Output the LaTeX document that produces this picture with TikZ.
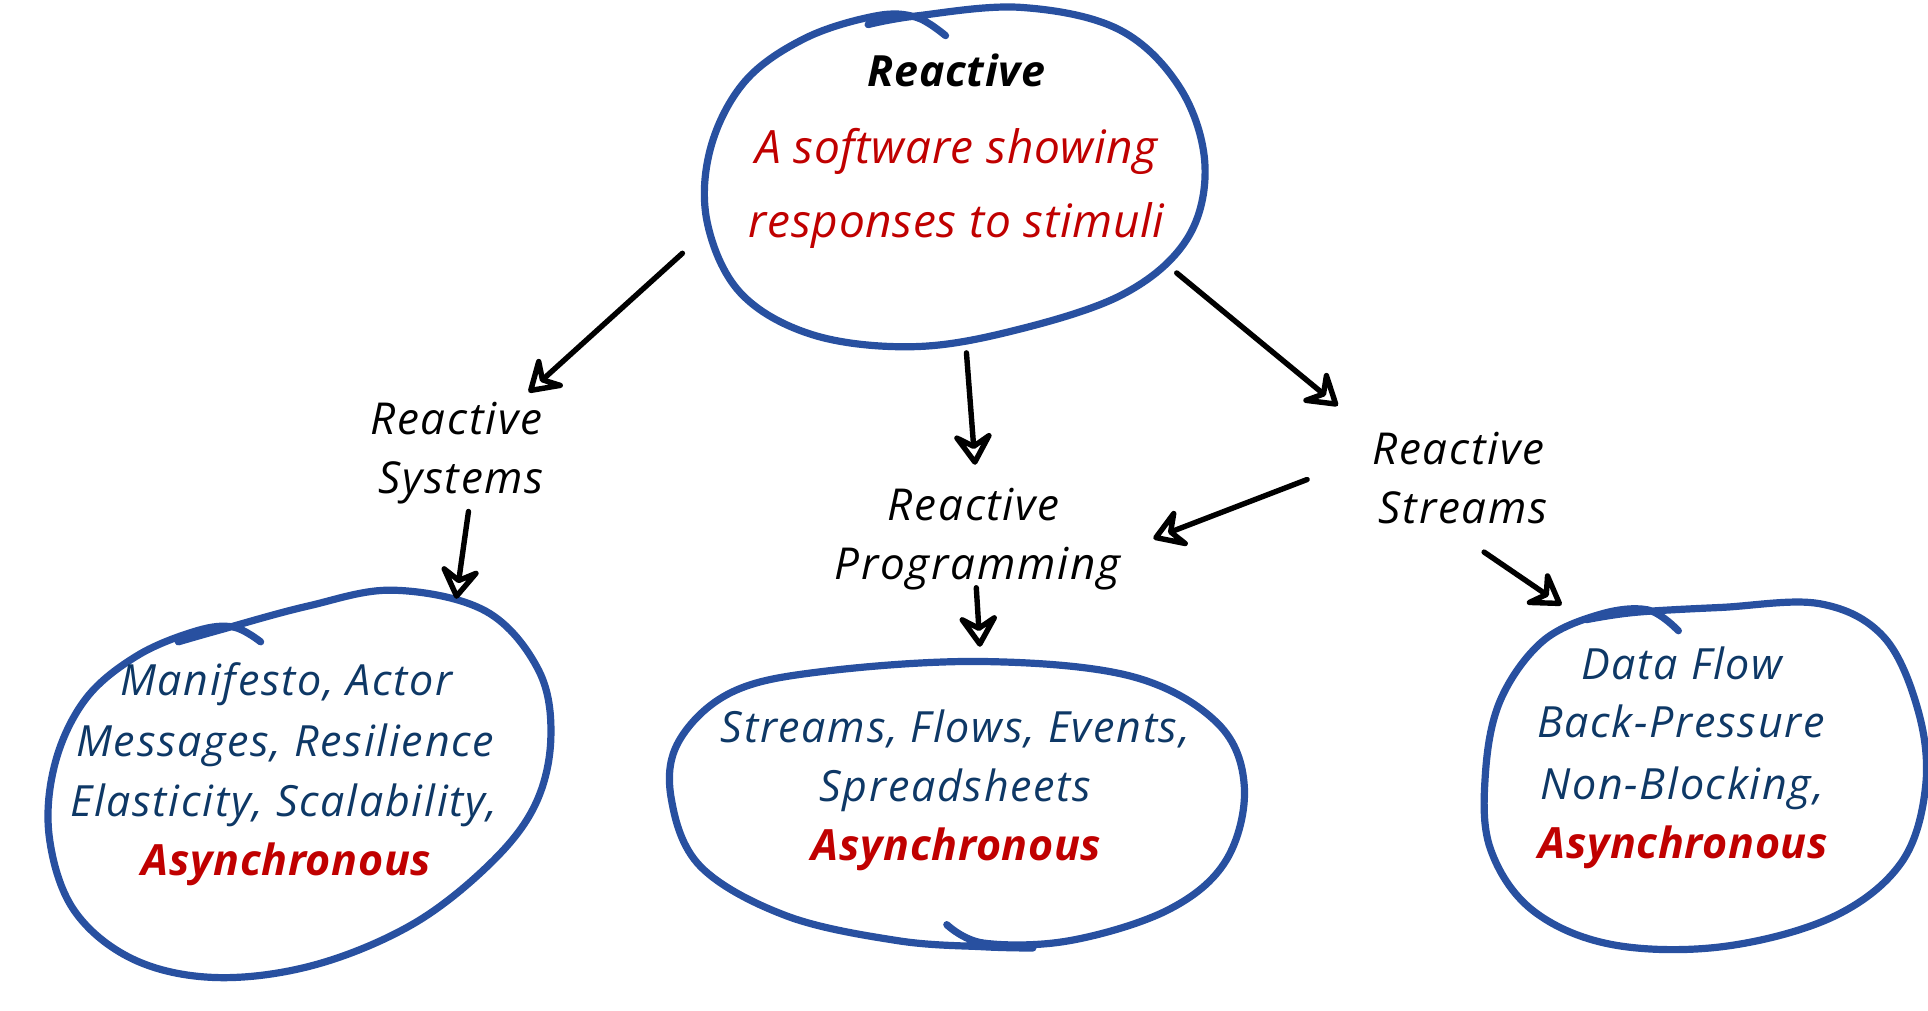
\documentclass[tikz,border=0pt]{standalone}
\usepackage{fontspec}
\setmainfont{Open Sans}
\usetikzlibrary{arrows.meta}
\definecolor{ringblue}{RGB}{40,80,160}
\definecolor{navytxt}{RGB}{14,56,102}
\definecolor{redtxt}{RGB}{192,0,0}
\newfontfamily\handfont[LetterSpace=4]{Open Sans}
\newfontfamily\handfontb[LetterSpace=1.5]{Open Sans}
\tikzset{
  ring/.style={draw=ringblue, line width=3.6pt, line cap=round, line join=round},
  conn/.style={draw=black, line width=2.7pt, line cap=round, line join=round,
    -{Stealth[open, length=19pt, width=24pt, inset=7pt, round]}},
  lbl/.style={anchor=base, inner sep=0pt, font=\handfont\fontsize{22}{26}\selectfont\itshape},
  head/.style={lbl, font=\handfontb\fontsize{21.5}{26}\selectfont\bfseries\itshape},
  redl/.style={lbl, text=redtxt, font=\handfontb\fontsize{23}{28}\selectfont\itshape},
  bluel/.style={lbl, text=navytxt, font=\handfont\fontsize{21.5}{26}\selectfont\itshape},
  asyn/.style={lbl, text=redtxt, font=\handfontb\fontsize{21.5}{26}\selectfont\bfseries\itshape},
}
\begin{document}
\begin{tikzpicture}[x=0.6148pt, y=-0.6148pt]
\useasboundingbox (0,0) rectangle (1568,822);

% ---- rings ----
\draw[ring] plot[smooth, tension=0.6] coordinates {(706,20) (745,13) (830,6) (910,24) (960,72) (980,135) (965,195) (912,240) (820,270) (740,282) (660,272) (602,238) (575,180) (578,120) (606,66) (655,31) (712,13) (745,14) (769,29)};
\draw[ring] plot[smooth, tension=0.6] coordinates {(145,522) (180,512) (250,493) (320,480) (395,497) (438,545) (448,600) (435,655) (398,703) (335,752) (255,785) (175,795) (108,780) (60,740) (40,680) (45,620) (70,568) (112,533) (160,513) (190,510) (212,522)};
\draw[ring] plot[smooth, tension=0.6] coordinates {(770,752) (800,767) (870,765) (950,740) (997,700) (1012,640) (990,588) (920,550) (800,538) (670,546) (595,563) (552,603) (546,650) (570,705) (640,745) (730,765) (800,770) (840,771)};
\draw[ring] plot[smooth, tension=0.6] coordinates {(1290,504) (1330,498) (1400,494) (1480,491) (1532,518) (1560,578) (1566,640) (1546,702) (1490,746) (1400,770) (1310,768) (1246,740) (1212,690) (1208,630) (1220,570) (1254,522) (1300,500) (1340,496) (1365,513)};

% ---- texts ----
\node[head]  (t0) at (778,70)  {Reactive};
\node[redl]  (t1) at (778,133) {A software showing};
\node[redl]  (t2) at (778,193) {responses to stimuli};

\node[lbl] (s1) at (371,353) {Reactive};
\node[lbl] (s2) at (375,401) {Systems};
\node[lbl] (p1) at (792,423) {Reactive};
\node[lbl] (p2) at (795,471) {Programming};
\node[lbl] (r1) at (1186,378) {Reactive};
\node[lbl] (r2) at (1190,426) {Streams};

\node[bluel] (l1) at (233,566) {Manifesto, Actor};
\node[bluel] (l2) at (232,615) {Messages, Resilience};
\node[bluel] (l3) at (231,664) {Elasticity, Scalability,};
\node[asyn]  (l4) at (233,712) {Asynchronous};

\node[bluel] (m1) at (777,604) {Streams, Flows, Events,};
\node[bluel] (m2) at (777,652) {Spreadsheets};
\node[asyn]  (m3) at (778,700) {Asynchronous};

\node[bluel] (n1) at (1368,553) {Data Flow};
\node[bluel] (n2) at (1367,600) {Back-Pressure};
\node[bluel] (n3) at (1368,650) {Non-Blocking,};
\node[asyn]  (n4) at (1369,698) {Asynchronous};

% ---- connector ends ----
\coordinate (a1s) at (555,206);  \coordinate (a1e) at (430,319);
\coordinate (a2s) at (786,287);  \coordinate (a2e) at (793,378);
\coordinate (a3s) at (957,222);  \coordinate (a3e) at (1088,330);
\coordinate (a4s) at (381,416);  \coordinate (a4e) at (371,487);
\coordinate (a5s) at (1063,390); \coordinate (a5e) at (938,438);
\coordinate (a6s) at (1207,449); \coordinate (a6e) at (1270,492);
\coordinate (a7s) at (794,478);  \coordinate (a7e) at (797,526);

\draw[conn] (a1s) -- (a1e);
\draw[conn] (a2s) -- (a2e);
\draw[conn] (a3s) -- (a3e);
\draw[conn] (a4s) -- (a4e);
\draw[conn] (a5s) -- (a5e);
\draw[conn] (a6s) -- (a6e);
\draw[conn] (a7s) -- (a7e);
\end{tikzpicture}
\end{document}
